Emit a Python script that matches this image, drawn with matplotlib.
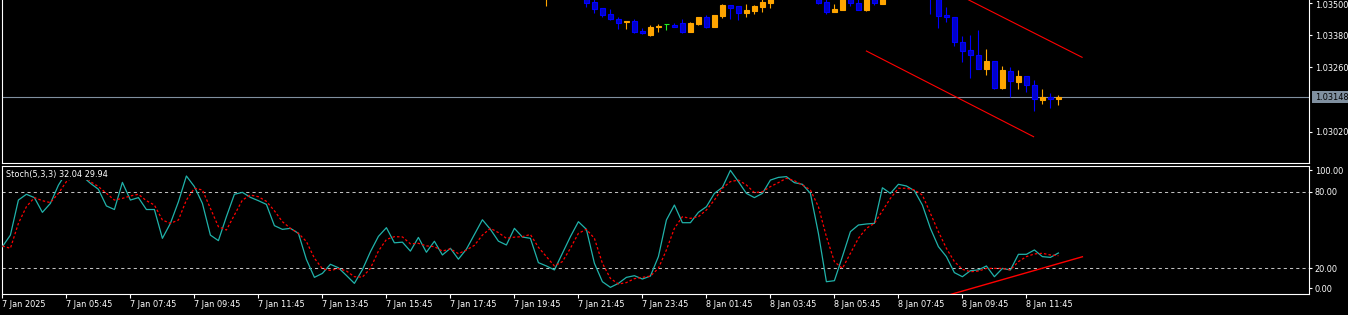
import matplotlib
matplotlib.use("Agg")
import matplotlib.pyplot as plt
from matplotlib.patches import Rectangle
from matplotlib.transforms import ScaledTranslation

# ---------------- data ----------------
time_labels = ["7 Jan 2025", "7 Jan 05:45", "7 Jan 07:45", "7 Jan 09:45", "7 Jan 11:45",
               "7 Jan 13:45", "7 Jan 15:45", "7 Jan 17:45", "7 Jan 19:45", "7 Jan 21:45",
               "7 Jan 23:45", "8 Jan 01:45", "8 Jan 03:45", "8 Jan 05:45", "8 Jan 07:45",
               "8 Jan 09:45", "8 Jan 11:45"]
label_bars = list(range(0, 129, 8))

stoch_k = [37, 46, 73.4, 77.9, 75.3, 63.8, 70.8, 85, 95, 97, 92, 86.5, 81.8, 68.8, 66, 87.2,
           73.4, 75.3, 66, 66, 43.5, 55.2, 72, 92.2, 83.9, 70.8, 46, 41.7, 60.4, 77.9, 79.4,
           75.5, 72.9, 70, 53.4, 50.5, 51.3, 47.4, 27, 13, 16.1, 23.2, 20.5, 14.5, 8.3, 19,
           33, 45, 51.8, 40, 40.5, 33.5, 44.2, 32.6, 41.2, 30.5, 35.7, 27.2, 35, 46.5, 58,
           50.5, 41.3, 38.3, 51.3, 44.5, 43.5, 24.5, 21.9, 18.8, 31.8, 44.8, 56.5, 50.5, 24,
           9.6, 5.2, 8.3, 13, 14.3, 11.7, 14, 29.2, 57.8, 69.5, 55.7, 55.7, 63.8, 68.2, 78.6,
           83.3, 96.6, 87.8, 78.6, 75.3, 78.6, 89, 91.1, 91.7, 87, 85.7, 78.6, 47.4, 9.6, 10.4,
           29.2, 48.7, 53.9, 54.7, 55.2, 83, 78.6, 85.7, 84.4, 80.7, 69.5, 51.3, 37, 29.2,
           16.7, 13.5, 18.2, 18.8, 21.9, 13.5, 20, 18.8, 31, 31, 34.4, 29.2, 28.6, 32.04]

stoch_d = [37.5, 35.7, 55.2, 68.2, 75.3, 72.9, 71.4, 78.6, 87.8, 92, 94, 87.8, 83.9, 78.6,
           73.4, 74.7, 76.6, 77.9, 72.9, 69.5, 57.8, 55.2, 57.8, 73.4, 82.6, 81.3, 66.9, 52.6,
           50, 61.7, 73.4, 77.3, 76, 72.4, 65, 56.5, 51.3, 47.4, 41, 28, 19.7, 18.4, 19.8, 18,
           13.5, 13.2, 20, 33.5, 42.6, 44.8, 44.6, 39.2, 39.6, 37.6, 37, 33.5, 35.3, 31.5,
           34.4, 38, 46, 51.3, 48, 43.5, 44.4, 44.8, 46.5, 36.5, 29.2, 21.9, 25.3, 35.7, 47.4,
           50.5, 43.5, 24, 12.2, 7.8, 8.9, 12, 13, 14, 20, 34.4, 51.3, 60.4, 59.1, 60.4, 65.6,
           73.4, 82.6, 87.8, 89, 85.2, 79.2, 79.9, 83.9, 87, 90.4, 88.5, 85.2, 81.3, 68.2,
           44.8, 25.3, 20, 31.8, 43.5, 51.3, 55.2, 65, 74.7, 82.6, 82.6, 81.3, 77.3, 63, 48.7,
           35.7, 25.3, 19.3, 17.4, 17.9, 20, 20, 20, 18.8, 25.3, 29.2, 31.3, 31.8, 30.5, 29.94]

candle_bar = [68, 73, 74, 75, 76, 77, 78, 79, 80, 81, 82, 83, 84, 85, 86, 87, 88, 89, 90, 91,
              92, 93, 94, 95, 96, 102, 103, 104, 105, 106, 107, 108, 109, 110, 116, 117, 118,
              119, 120, 121, 122, 123, 124, 125, 126, 127, 128, 129, 130, 131, 132]
opens = [1.03530, 1.03530, 1.03503, 1.03481, 1.03458, 1.03440, 1.03427, 1.03432, 1.03396,
         1.03381, 1.03409, 1.03420, 1.03418, 1.03424, 1.03392, 1.03421, 1.03447, 1.03411,
         1.03451, 1.03492, 1.03488, 1.03463, 1.03470, 1.03485, 1.03498, 1.03530, 1.03502,
         1.03467, 1.03474, 1.03530, 1.03500, 1.03474, 1.03530, 1.03496, 1.03560, 1.03530,
         1.03454, 1.03446, 1.03353, 1.03324, 1.03304, 1.03252, 1.03282, 1.03184, 1.03246,
         1.03206, 1.03226, 1.03193, 1.03139, 1.03148, 1.03142]
highs = [1.03570, 1.03540, 1.03520, 1.03481, 1.03477, 1.03446, 1.03432, 1.03438, 1.03406,
         1.03417, 1.03421, 1.03421, 1.03425, 1.03440, 1.03428, 1.03447, 1.03453, 1.03454,
         1.03494, 1.03492, 1.03488, 1.03494, 1.03493, 1.03515, 1.03525, 1.03540, 1.03520,
         1.03495, 1.03535, 1.03540, 1.03520, 1.03535, 1.03540, 1.03540, 1.03570, 1.03540,
         1.03483, 1.03446, 1.03376, 1.03380, 1.03399, 1.03328, 1.03282, 1.03266, 1.03262,
         1.03250, 1.03226, 1.03212, 1.03179, 1.03163, 1.03157]
lows = [1.03489, 1.03483, 1.03463, 1.03446, 1.03436, 1.03402, 1.03402, 1.03389, 1.03384,
        1.03376, 1.03391, 1.03399, 1.03409, 1.03389, 1.03391, 1.03417, 1.03406, 1.03409,
        1.03444, 1.03441, 1.03436, 1.03448, 1.03459, 1.03467, 1.03482, 1.03497, 1.03458,
        1.03467, 1.03474, 1.03489, 1.03474, 1.03470, 1.03492, 1.03496, 1.03458, 1.03407,
        1.03429, 1.03340, 1.03281, 1.03221, 1.03252, 1.03231, 1.03179, 1.03179, 1.03149,
        1.03179, 1.03169, 1.03097, 1.03123, 1.03109, 1.03119]
closes = [1.03560, 1.03500, 1.03476, 1.03456, 1.03440, 1.03425, 1.03432, 1.03391, 1.03387,
          1.03410, 1.03413, 1.03420, 1.03411, 1.03392, 1.03425, 1.03447, 1.03411, 1.03454,
          1.03492, 1.03482, 1.03463, 1.03473, 1.03489, 1.03504, 1.03520, 1.03500, 1.03467,
          1.03477, 1.03530, 1.03500, 1.03474, 1.03530, 1.03498, 1.03530, 1.03530, 1.03452,
          1.03446, 1.03355, 1.03322, 1.03307, 1.03252, 1.03283, 1.03184, 1.03250, 1.03208,
          1.03227, 1.03195, 1.03143, 1.03149, 1.03143, 1.03148]

current_price = 1.03148
price_ticks = [1.03500, 1.03380, 1.03260, 1.03020]
stoch_levels = [80, 20]
stoch_tick_labels = ["100.00", "80.00", "20.00", "0.00"]
# trend / channel lines (bar index, value)
chan_upper = ([118.0, 134.96], [1.035525, 1.032970])
chan_lower = ([108.0, 128.9], [1.033204, 1.030014])
stoch_trend = ([118.0, 135.0], [-1.3, 29.1])

# ---------------- layout ----------------
W, H = 1348, 315
FS = 5.9
fig = plt.figure(figsize=(W / 100, H / 100), dpi=100, facecolor="black")


def px_axes(x0, y0, x1, y1):
    return fig.add_axes([x0 / W, 1 - y1 / H, (x1 - x0) / W, (y1 - y0) / H])


ax1 = px_axes(2, 0, 1309, 163)
ax2 = px_axes(2, 166, 1309, 294)
XMAX = 1307 / 8.0
BULL, BEAR_E, BEAR_F, DOJI = "#FFA500", "#0000FF", "#0000C8", "#22EE22"

for ax in (ax1, ax2):
    ax.set_facecolor("black")
    ax.set_xlim(-0.05, XMAX - 0.05)
    for s in ax.spines.values():
        s.set_color("white")
        s.set_linewidth(0.8)
ax1.spines["top"].set_visible(False)

# ---- upper panel: candles ----
ax1.set_ylim(1.029035, 1.035103)
bw = 0.58
for b, o, h, l, c in zip(candle_bar, opens, highs, lows, closes):
    if c > o:
        ec, fc = BULL, BULL
    elif c < o:
        ec, fc = BEAR_E, BEAR_F
    else:
        ec, fc = DOJI, DOJI
    ax1.vlines(b, l, h, color=ec, lw=0.8, zorder=3)
    if c == o:
        ax1.hlines(o, b - bw / 2 - 0.05, b + bw / 2 + 0.05, color=ec, lw=0.8, zorder=4)
    else:
        ax1.add_patch(Rectangle((b - bw / 2, min(o, c)), bw, abs(c - o),
                                facecolor=fc, edgecolor=ec, lw=0.8, zorder=4))

ax1.axhline(current_price, color="#8090A0", lw=0.8, zorder=2)
ax1.plot(*chan_upper, color="#FF0000", lw=0.8, zorder=5)
ax1.plot(*chan_lower, color="#FF0000", lw=0.8, zorder=5)

ax1.yaxis.tick_right()
ax1.set_yticks(price_ticks)
ax1.set_yticklabels([f"{p:.5f}" for p in price_ticks])
ax1.tick_params(axis="y", colors="white", labelsize=FS, length=2.2, width=0.8, pad=2)
ax1.set_xticks([])
# keep the topmost price label inside the picture
top_lbl = ax1.get_yticklabels()[0]
top_lbl.set_transform(top_lbl.get_transform() + ScaledTranslation(0, -1.3 / 100, fig.dpi_scale_trans))

# current price label on the scale
fig.patches.append(Rectangle((1312 / W, 1 - 103.5 / H), 36 / W, 12.5 / H,
                             transform=fig.transFigure, facecolor="#8090A0",
                             edgecolor="none", zorder=5))
fig.text(1315 / W, 1 - 97.6 / H, f"{current_price:.5f}", color="black", fontsize=FS,
         va="center", ha="left", zorder=6)

# ---- lower panel: stochastic ----
ax2.set_ylim(0, 100)
bars = list(range(len(stoch_k)))
for lv in stoch_levels:
    ax2.axhline(lv, color="#C0C0C0", lw=0.75, dashes=(3, 3), zorder=1)
ax2.plot(bars, stoch_k, color="#20B2AA", lw=0.9, zorder=3)
ax2.plot(bars, stoch_d, color="#FF0000", lw=0.9, dashes=(2, 1.7), zorder=3)
ax2.plot(*stoch_trend, color="#FF0000", lw=1.0, zorder=4)

ax2.yaxis.tick_right()
ax2.set_yticks([96.6, 80, 20, 4.45])
ax2.set_yticklabels(stoch_tick_labels)
ax2.tick_params(axis="y", colors="white", labelsize=FS, length=2.2, width=0.8, pad=2)

ax2.set_xticks(label_bars)
ax2.set_xticklabels(time_labels)
ax2.tick_params(axis="x", colors="white", labelsize=FS, length=2.8, width=0.8, pad=1.2)
for t in ax2.get_xticklabels():
    t.set_ha("left")

fig.text(6 / W, 1 - 174 / H, "Stoch(5,3,3) 32.04 29.94", color="white", fontsize=FS,
         va="center", ha="left", zorder=6,
         bbox=dict(facecolor="black", edgecolor="none", pad=1.0))

fig.savefig("out.png", dpi=100, facecolor="black")
